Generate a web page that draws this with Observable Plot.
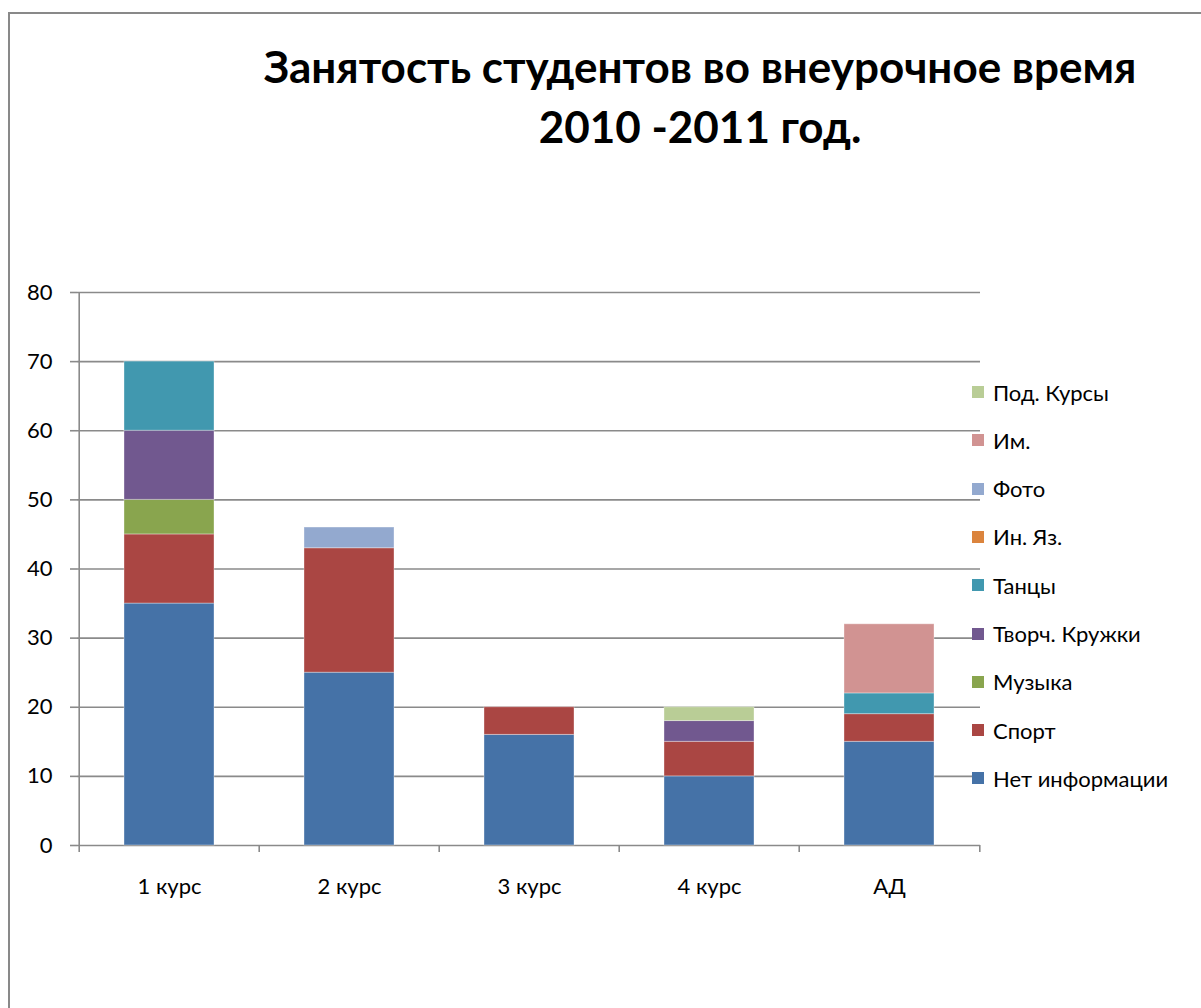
<!DOCTYPE html>
<html><head><meta charset="utf-8">
<script src="https://cdn.jsdelivr.net/npm/d3@7"></script>
<script src="https://cdn.jsdelivr.net/npm/@observablehq/plot@0.6"></script>
<style>
html,body{margin:0;padding:0;background:#fff;}
#wrap{position:relative;width:1201px;height:1008px;overflow:hidden;font-family:Lato,"Open Sans",sans-serif;}
#frame{position:absolute;left:8px;top:12px;width:1300px;height:1100px;border-left:2px solid #898989;border-top:2px solid #898989;}
#title{position:absolute;left:240px;width:920px;top:36px;text-align:center;font-weight:bold;font-size:44px;line-height:60px;color:#000;}
#legend{position:absolute;left:972px;top:380px;}
.li{position:absolute;left:0;height:24px;display:flex;align-items:center;white-space:nowrap;font-size:22px;color:#000;}
.sw{width:12px;height:12px;margin-right:9px;}
#chart{position:absolute;left:0;top:0;}
</style></head>
<body><div id="wrap"><div id="frame"></div><div id="title">Занятость студентов во внеурочное время<br>2010 -2011 год.</div><div id="chart"></div><div id="legend"></div></div>
<script>
const categories = ["1 курс", "2 курс", "3 курс", "4 курс", "АД"];
const seriesNames = ["Нет информации", "Спорт", "Музыка", "Творч. Кружки", "Танцы", "Ин. Яз.", "Фото", "Им.", "Под. Курсы"];
const seriesColors = ["#4572A7", "#AA4643", "#89A54E", "#71588F", "#4198AF", "#DB843D", "#93A9CF", "#D19392", "#B9CD96"];
const netInfo   = [35, 25, 16, 10, 15];
const sport     = [10, 18, 4, 5, 4];
const music     = [5, 0, 0, 0, 0];
const creative  = [10, 0, 0, 3, 0];
const dance     = [10, 0, 0, 0, 3];
const foreign   = [0, 0, 0, 0, 0];
const photo     = [0, 3, 0, 0, 0];
const im        = [0, 0, 0, 0, 10];
const prepCourses = [0, 0, 0, 2, 0];
const yTicks = [0, 10, 20, 30, 40, 50, 60, 70, 80];

const seriesValues = [netInfo, sport, music, creative, dance, foreign, photo, im, prepCourses];
const data = [];
seriesValues.forEach((vals, si) => vals.forEach((v, ci) => data.push({cat: categories[ci], series: seriesNames[si], value: v, order: si})));

const W = 1201, H = 1008;
const mL = 77, mR = 221, mT = 292, mB = 163;
const band = (W - mL - mR) / categories.length;
const grid = "#8a8a8a";

const chart = Plot.plot({
  width: W, height: H,
  marginLeft: mL, marginRight: mR, marginTop: mT, marginBottom: mB,
  style: {fontFamily: "Lato, 'Open Sans', sans-serif", fontSize: "22px", color: "#000", background: "transparent"},
  x: {domain: categories, padding: 0, label: null},
  y: {domain: [0, 80], label: null},
  color: {domain: seriesNames, range: seriesColors},
  marks: [
    Plot.ruleY(yTicks, {y: d => d, stroke: grid, strokeWidth: 1.6}),
    Plot.barY(data.filter(d => d.value > 0), Plot.stackY({order: seriesNames}, {x: "cat", y: "value", fill: "series", z: "series", insetLeft: 45, insetRight: 45, stroke: "#ffffff", strokeOpacity: 0.35, strokeWidth: 1})),
    Plot.ruleX(categories, {x: d => d, dx: -band / 2, y1: -1, y2: 0, stroke: grid, strokeWidth: 1.6}),
    Plot.ruleX([categories[categories.length - 1]], {x: d => d, dx: band / 2, y1: -1, y2: 0, stroke: grid, strokeWidth: 1.6}),
    Plot.ruleX([categories[0]], {x: d => d, dx: -band / 2, y1: 0, y2: 80, stroke: grid, strokeWidth: 1.6}),
    Plot.axisY({ticks: yTicks, tickSize: 7, tickPadding: 18, stroke: grid, strokeWidth: 1.6, strokeOpacity: 1, fontSize: 22, label: null, textAnchor: "end"}),
    Plot.axisX({tickSize: 0, tickPadding: 33, fontSize: 22, label: null})
  ]
});
document.getElementById("chart").appendChild(chart);

// legend (top to bottom = reverse of stacking order)
const legend = document.getElementById("legend");
const rev = seriesNames.map((n, i) => i).reverse();
rev.forEach((si, k) => {
  const row = document.createElement("div");
  row.className = "li";
  row.style.top = (k * 48.3) + "px";
  row.innerHTML = `<span class="sw" style="background:${seriesColors[si]}"></span><span>${seriesNames[si]}</span>`;
  legend.appendChild(row);
});
</script></body></html>
